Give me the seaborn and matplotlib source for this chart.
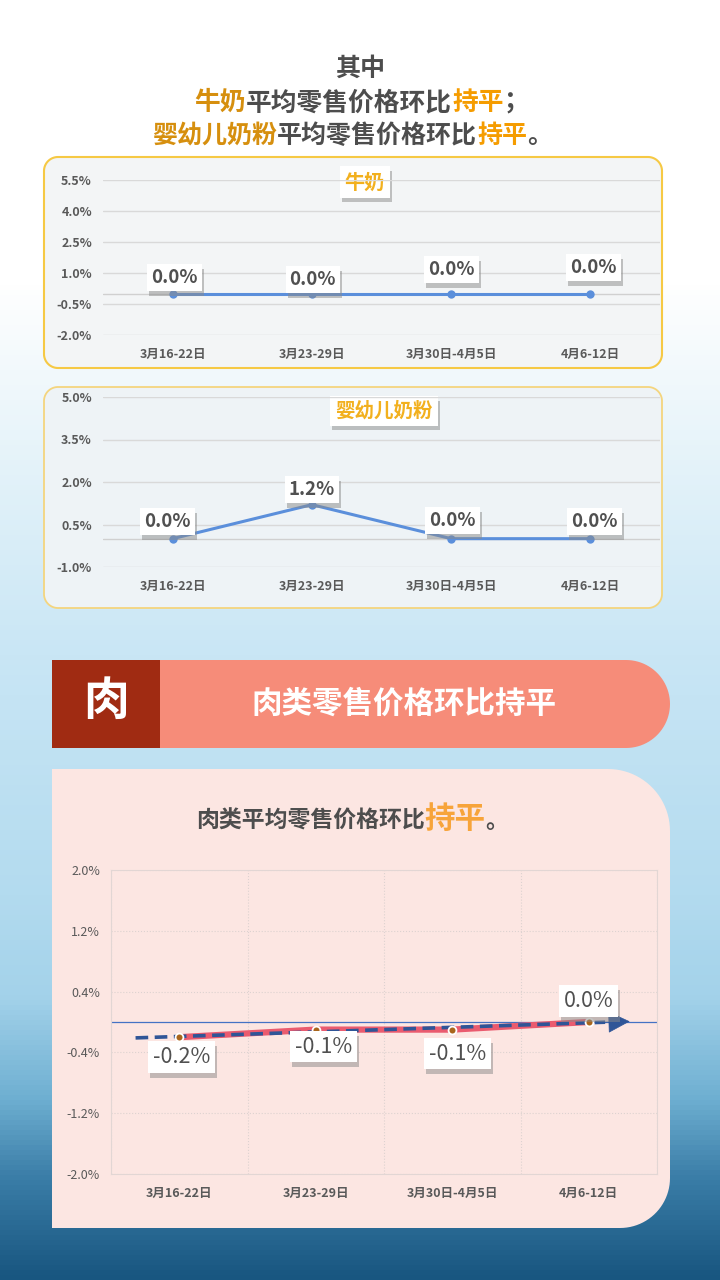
import numpy as np
import pandas as pd
import matplotlib
matplotlib.use("Agg")
import matplotlib.pyplot as plt
import matplotlib.patheffects as pe
import seaborn as sns
from matplotlib.path import Path
from matplotlib.patches import PathPatch, Rectangle
from matplotlib.colors import LinearSegmentedColormap

# data
weeks = ["3月16-22日", "3月23-29日", "3月30日-4月5日", "4月6-12日"]
milk = [0.0, 0.0, 0.0, 0.0]
formula = [0.0, 1.2, 0.0, 0.0]
meat = [-0.2, -0.1, -0.1, 0.0]
milk_ticks = [-2.0, -0.5, 1.0, 2.5, 4.0, 5.5]
formula_ticks = [-1.0, 0.5, 2.0, 3.5, 5.0]
meat_ticks = [-2.0, -1.2, -0.4, 0.4, 1.2, 2.0]

# label offsets in pixels (dx, dy)
milk_off = [(2, 16), (1, 14), (0, 24), (3, 26)]
formula_off = [(-5, 17), (0, 15), (1, 18), (4, 17)]
meat_off = [(2, -20), (8, -17), (5, -24), (0, 21)]

W, H = 720, 1280
GREY = "#595959"

sns.set_theme(style="white")
plt.rcParams["font.family"] = ["Noto Sans CJK SC", "DejaVu Sans"]
plt.rcParams["axes.unicode_minus"] = False

fig = plt.figure(figsize=(7.2, 12.8), dpi=100)
bg = fig.add_axes([0, 0, 1, 1], zorder=0)
stops = [(0, "#ffffff"), (0.22, "#ffffff"), (0.31, "#eef7fb"), (0.51, "#c9e6f5"),
         (0.70, "#b3dbef"), (0.78, "#a3d2ea"), (0.86, "#6eafd1"), (0.92, "#3b7ea8"),
         (1.0, "#185680")]
cmap = LinearSegmentedColormap.from_list("bg", stops)
bg.imshow(np.linspace(0, 1, H).reshape(-1, 1), cmap=cmap, extent=(0, W, H, 0), aspect="auto")
bg.set_xlim(0, W)
bg.set_ylim(H, 0)
bg.axis("off")


def rrect(x0, y0, x1, y1, tl=0, tr=0, br=0, bl=0, n=24):
    pts = []

    def arc(cx, cy, r, a0, a1):
        t = np.linspace(a0, a1, n)
        return list(zip(cx + r * np.cos(t), cy + r * np.sin(t)))
    pts += arc(x0 + tl, y0 + tl, tl, np.pi, 1.5 * np.pi)
    pts += arc(x1 - tr, y0 + tr, tr, 1.5 * np.pi, 2 * np.pi)
    pts += arc(x1 - br, y1 - br, br, 0, 0.5 * np.pi)
    pts += arc(x0 + bl, y1 - bl, bl, 0.5 * np.pi, np.pi)
    pts.append(pts[0])
    return Path(np.array(pts), closed=True)


def shadow_box(t):
    t.get_bbox_patch().set_path_effects(
        [pe.withSimplePatchShadow(offset=(1.5, -3.5), shadow_rgbFace="#8a8a8a", alpha=0.5), pe.Normal()])


# panels
bg.add_patch(PathPatch(rrect(44, 157, 662, 368, 14, 14, 14, 14), fc="#f3f5f6", ec="#f6c944", lw=1.5, zorder=1))
bg.add_patch(PathPatch(rrect(44, 387, 662, 608, 14, 14, 14, 14), fc="#eef3f6", ec="#f4d57e", lw=1.3, zorder=1))
bg.add_patch(Rectangle((52, 660), 108, 88, fc="#a02b12", ec="none", zorder=1))
bg.add_patch(PathPatch(rrect(160, 660, 670, 748, 0, 44, 44, 0), fc="#f68c79", ec="none", zorder=1))
bg.add_patch(PathPatch(rrect(52, 769, 670, 1228, 0, 62, 50, 0), fc="#fce6e2", ec="none", zorder=1))

renderer = fig.canvas.get_renderer()


def rich(y, pieces, cx):
    texts, widths = [], []
    for s, c, sz in pieces:
        t = bg.text(0, y, s, color=c, fontsize=sz, weight="bold", ha="left", va="baseline", zorder=5)
        texts.append(t)
        widths.append(t.get_window_extent(renderer).width)
    x = cx - sum(widths) / 2
    for t, w in zip(texts, widths):
        t.set_x(x)
        x += w


GOLD = "#d68f0e"
ORANGE = "#f59c00"
DARK = "#4d4d4d"
rich(76, [("其中", DARK, 18)], 360)
rich(110, [("牛奶", GOLD, 18.5), ("平均零售价格环比", DARK, 18.5), ("持平", ORANGE, 18.5), ("；", DARK, 18.5)], 362)
rich(143, [("婴幼儿奶粉", GOLD, 18), ("平均零售价格环比", DARK, 18), ("持平", ORANGE, 18), ("。", DARK, 18)], 352)
rich(828, [("肉类平均零售价格环比", DARK, 16.5), ("持平", "#f7a43a", 22), ("。", DARK, 16.5)], 352)

bg.text(106, 702, "肉", color="white", fontsize=33, weight="bold", ha="center", va="center", zorder=5)
bg.text(404, 704, "肉类零售价格环比持平", color="white", fontsize=22, weight="bold", ha="center", va="center", zorder=5)

for x, y, s, sz in [(365, 182, "牛奶", 14.5), (384, 411, "婴幼儿奶粉", 14)]:
    t = bg.text(x, y, s, color="#f2b01e", fontsize=sz, weight="bold", ha="center", va="center", zorder=5,
                bbox=dict(boxstyle="square,pad=0.25", fc="white", ec="none"))
    shadow_box(t)


def chart_ax(l, t, r, b):
    return fig.add_axes([l / W, 1 - b / H, (r - l) / W, (b - t) / H], zorder=2)


def small_chart(box, vals, ticks, offs):
    ax = chart_ax(*box)
    df = pd.DataFrame({"week": weeks, "val": vals})
    ax.axhline(0, color="#d0d0d0", lw=1, zorder=1)
    sns.lineplot(data=df, x="week", y="val", ax=ax, sort=False, color="#5b8fdb", lw=2.2,
                 marker="o", markersize=6, markeredgewidth=0, zorder=3)
    ax.set_xlim(-0.5, 3.5)
    ax.set_ylim(ticks[0], ticks[-1])
    ax.set_yticks(ticks)
    ax.set_yticklabels([f"{v:.1f}%" for v in ticks])
    ax.set_facecolor("none")
    for s in ax.spines.values():
        s.set_visible(False)
    ax.grid(axis="y", color="#d9d9d9", lw=1)
    ax.grid(axis="x", visible=False)
    ax.set_xlabel("")
    ax.set_ylabel("")
    ax.tick_params(axis="both", length=0, colors=GREY, labelsize=9)
    ax.tick_params(axis="y", pad=8)
    ax.tick_params(axis="x", pad=9)
    for lab in ax.get_xticklabels() + ax.get_yticklabels():
        lab.set_fontweight("bold")
    for w, v, (dx, dy) in zip(weeks, vals, offs):
        t = ax.annotate(f"{v:.1f}%", xy=(w, v), xytext=(dx, dy), textcoords="offset pixels",
                        ha="center", va="center", fontsize=13.5, color="#505050", weight="bold", zorder=6,
                        bbox=dict(boxstyle="square,pad=0.22", fc="white", ec="none"))
        shadow_box(t)
    return ax


small_chart((103, 180, 660, 335), milk, milk_ticks, milk_off)
small_chart((103, 397, 660, 567), formula, formula_ticks, formula_off)

# meat chart
ax3 = chart_ax(111, 870, 657, 1174)
df3 = pd.DataFrame({"week": weeks, "val": meat})
ax3.axhline(0, color="#4472c4", lw=0.9, zorder=1)
sns.lineplot(data=df3, x="week", y="val", ax=ax3, sort=False, color="#ea5b6f", lw=4.5, zorder=2)
coef = np.polyfit(np.arange(len(meat)), meat, 1)
xs = np.array([-0.32, 3.12])
ax3.plot(xs, np.polyval(coef, xs), ls=(0, (3.5, 1.8)), color="#2f5597", lw=2.6, zorder=3)
ax3.annotate("", xy=(3.3, np.polyval(coef, 3.3)), xytext=(3.1, np.polyval(coef, 3.1)),
             arrowprops=dict(arrowstyle="-|>,head_length=0.9,head_width=0.45", color="#2f5597",
                             lw=0.5, shrinkA=0, shrinkB=0, mutation_scale=16), zorder=3)
sns.scatterplot(data=df3, x="week", y="val", ax=ax3, color="#a9651b", s=32, edgecolor="white",
                linewidth=1.3, zorder=4)
ax3.set_xlim(-0.5, 3.5)
ax3.set_ylim(meat_ticks[0], meat_ticks[-1])
ax3.set_yticks(meat_ticks)
ax3.set_yticklabels([f"{v:.1f}%" for v in meat_ticks])
ax3.set_xticks(np.arange(-0.5, 4, 1), minor=True)
ax3.set_facecolor("none")
for s in ax3.spines.values():
    s.set_color("#e2d6d4")
    s.set_linewidth(0.8)
ax3.grid(axis="y", which="major", color="#ddd2d0", lw=0.8, ls=":")
ax3.grid(axis="x", which="minor", color="#ddd2d0", lw=0.8, ls=":")
ax3.grid(axis="x", which="major", visible=False)
ax3.set_xlabel("")
ax3.set_ylabel("")
ax3.tick_params(axis="both", which="both", length=0, colors=GREY, labelsize=9)
ax3.tick_params(axis="y", pad=8)
ax3.tick_params(axis="x", pad=9)
for lab in ax3.get_xticklabels():
    lab.set_fontweight("bold")
for w, v, (dx, dy) in zip(weeks, meat, meat_off):
    t = ax3.annotate(f"{v:.1f}%", xy=(w, v), xytext=(dx, dy), textcoords="offset pixels",
                     ha="center", va="center", fontsize=15.5, color="#505050", zorder=6,
                     bbox=dict(boxstyle="square,pad=0.22", fc="white", ec="none"))
    shadow_box(t)

fig.savefig("out.png", dpi=100)
